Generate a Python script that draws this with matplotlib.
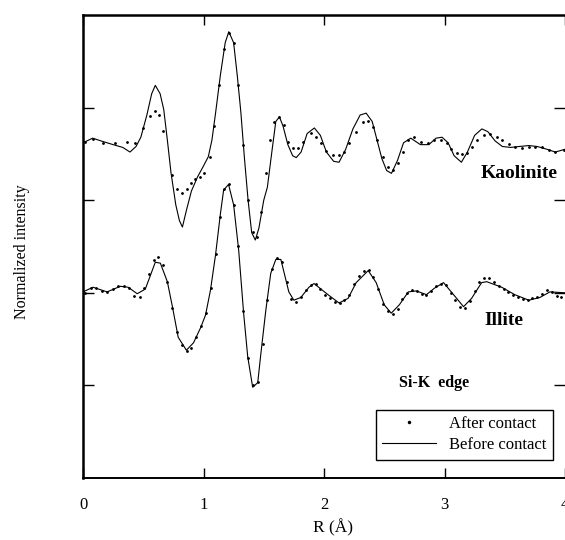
import matplotlib
matplotlib.use("Agg")
import matplotlib.pyplot as plt
import numpy as np

# 字体设置
plt.rcParams['font.family'] = ['Liberation Serif', 'DejaVu Serif']
plt.rcParams['mathtext.fontset'] = 'stix'

# Kaolinite, before contact (solid line)
kao_line_r = [0.00, 0.08, 0.15, 0.25, 0.33, 0.39, 0.44, 0.48, 0.53, 0.57, 0.60, 0.64, 0.67, 0.70,
              0.73, 0.77, 0.80, 0.825, 0.86, 0.90, 0.95, 1.00, 1.04, 1.07, 1.10, 1.14, 1.18, 1.21,
              1.25, 1.28, 1.31, 1.34, 1.37, 1.40, 1.43, 1.46, 1.50, 1.53, 1.57, 1.60, 1.63, 1.66,
              1.70, 1.74, 1.77, 1.81, 1.86, 1.92, 1.97, 2.02, 2.08, 2.125, 2.18, 2.24, 2.30, 2.35,
              2.40, 2.44, 2.48, 2.52, 2.56, 2.61, 2.66, 2.72, 2.80, 2.87, 2.93, 2.98, 3.03, 3.08,
              3.14, 3.19, 3.25, 3.31, 3.36, 3.42, 3.48, 3.55, 3.62, 3.70, 3.77, 3.85, 3.92, 4.00]
kao_line_y = [3.62, 3.67, 3.64, 3.60, 3.57, 3.52, 3.58, 3.68, 3.92, 4.15, 4.24, 4.15, 3.98, 3.65,
              3.30, 2.95, 2.78, 2.71, 2.90, 3.10, 3.25, 3.37, 3.47, 3.65, 3.94, 4.35, 4.70, 4.82,
              4.70, 4.35, 3.95, 3.45, 3.00, 2.65, 2.57, 2.70, 3.00, 3.14, 3.55, 3.85, 3.90, 3.80,
              3.60, 3.48, 3.46, 3.52, 3.72, 3.78, 3.70, 3.52, 3.42, 3.41, 3.55, 3.77, 3.92, 3.94,
              3.85, 3.65, 3.45, 3.32, 3.29, 3.43, 3.62, 3.67, 3.60, 3.60, 3.67, 3.68, 3.62, 3.48,
              3.41, 3.52, 3.70, 3.77, 3.74, 3.64, 3.58, 3.57, 3.58, 3.59, 3.58, 3.55, 3.52, 3.55]

# Kaolinite, after contact (dots)
kao_dot_r = [0.017, 0.083, 0.167, 0.267, 0.367, 0.433, 0.50, 0.558, 0.60, 0.633, 0.667, 0.742,
             0.783, 0.825, 0.867, 0.90, 0.933, 0.975, 1.008, 1.05, 1.083, 1.125, 1.167, 1.208,
             1.25, 1.283, 1.325, 1.367, 1.408, 1.442, 1.475, 1.517, 1.55, 1.583, 1.625, 1.667,
             1.70, 1.742, 1.783, 1.825, 1.892, 1.933, 1.975, 2.017, 2.075, 2.125, 2.167, 2.208,
             2.267, 2.325, 2.367, 2.408, 2.442, 2.492, 2.533, 2.575, 2.617, 2.658, 2.70, 2.75,
             2.808, 2.867, 2.917, 2.975, 3.017, 3.058, 3.10, 3.142, 3.183, 3.225, 3.267, 3.325,
             3.375, 3.433, 3.475, 3.533, 3.583, 3.642, 3.70, 3.75, 3.808, 3.867, 3.917, 3.992]
kao_dot_y = [3.63, 3.66, 3.62, 3.62, 3.63, 3.62, 3.78, 3.91, 3.96, 3.92, 3.75, 3.27,
             3.12, 3.08, 3.12, 3.19, 3.23, 3.25, 3.29, 3.47, 3.80, 4.24, 4.63, 4.81,
             4.70, 4.24, 3.60, 3.00, 2.66, 2.60, 2.87, 3.29, 3.65, 3.84, 3.90, 3.81,
             3.63, 3.56, 3.56, 3.63, 3.73, 3.68, 3.62, 3.53, 3.49, 3.49, 3.52, 3.62,
             3.74, 3.84, 3.86, 3.79, 3.65, 3.47, 3.36, 3.33, 3.40, 3.52, 3.65, 3.68,
             3.63, 3.62, 3.65, 3.65, 3.62, 3.55, 3.51, 3.50, 3.51, 3.57, 3.65, 3.70,
             3.71, 3.68, 3.65, 3.61, 3.57, 3.56, 3.57, 3.57, 3.57, 3.54, 3.52, 3.54]

# Illite, before contact (solid line)
ill_line_r = [0.00, 0.083, 0.20, 0.31, 0.375, 0.45, 0.517, 0.60, 0.642, 0.70, 0.742, 0.79, 0.858,
              0.917, 0.975, 1.017, 1.058, 1.10, 1.14, 1.167, 1.208, 1.25, 1.292, 1.333, 1.367,
              1.408, 1.45, 1.475, 1.517, 1.558, 1.60, 1.642, 1.708, 1.75, 1.808, 1.875, 1.917,
              2.033, 2.125, 2.20, 2.267, 2.367, 2.433, 2.50, 2.558, 2.625, 2.70, 2.767, 2.85,
              2.917, 2.992, 3.075, 3.158, 3.225, 3.308, 3.35, 3.475, 3.583, 3.70, 3.792, 3.875, 4.00]
ill_line_y = [2.01, 2.06, 2.01, 2.07, 2.06, 1.99, 2.04, 2.33, 2.32, 2.12, 1.85, 1.52, 1.38,
              1.46, 1.62, 1.76, 2.03, 2.41, 2.85, 3.11, 3.17, 2.95, 2.46, 1.78, 1.31,
              0.98, 1.03, 1.33, 1.81, 2.21, 2.36, 2.36, 2.01, 1.92, 1.95, 2.06, 2.10,
              1.98, 1.89, 1.94, 2.11, 2.24, 2.11, 1.87, 1.78, 1.87, 2.01, 2.02, 1.98,
              2.05, 2.11, 1.98, 1.85, 1.94, 2.11, 2.12, 2.06, 1.98, 1.92, 1.95, 2.01, 2.00]

# Illite, after contact (dots)
ill_dot_r = [0.02, 0.07, 0.11, 0.16, 0.20, 0.25, 0.29, 0.34, 0.38, 0.42, 0.47, 0.51, 0.55, 0.59,
             0.62, 0.66, 0.70, 0.74, 0.78, 0.82, 0.86, 0.90, 0.94, 0.98, 1.02, 1.06, 1.10, 1.14,
             1.17, 1.21, 1.25, 1.29, 1.33, 1.37, 1.41, 1.45, 1.49, 1.53, 1.57, 1.61, 1.65, 1.69,
             1.73, 1.77, 1.81, 1.85, 1.89, 1.93, 1.97, 2.01, 2.05, 2.09, 2.13, 2.17, 2.21, 2.25,
             2.29, 2.33, 2.37, 2.41, 2.45, 2.49, 2.53, 2.57, 2.61, 2.65, 2.69, 2.73, 2.77, 2.81,
             2.85, 2.89, 2.93, 2.97, 3.01, 3.05, 3.09, 3.13, 3.17, 3.21, 3.25, 3.29, 3.33, 3.37,
             3.41, 3.45, 3.49, 3.53, 3.57, 3.61, 3.65, 3.69, 3.73, 3.77, 3.81, 3.85, 3.89, 3.93, 3.97]
ill_dot_y = [2.00, 2.05, 2.05, 2.02, 2.01, 2.04, 2.07, 2.07, 2.05, 1.97, 1.96, 2.05, 2.20, 2.35,
             2.39, 2.30, 2.12, 1.84, 1.58, 1.44, 1.37, 1.40, 1.52, 1.64, 1.78, 2.05, 2.42, 2.82,
             3.12, 3.17, 2.95, 2.50, 1.80, 1.30, 1.00, 1.04, 1.45, 1.92, 2.26, 2.38, 2.33, 2.12,
             1.93, 1.90, 1.95, 2.03, 2.08, 2.09, 2.04, 1.98, 1.94, 1.90, 1.89, 1.92, 1.98, 2.10,
             2.18, 2.24, 2.25, 2.17, 2.04, 1.88, 1.80, 1.77, 1.83, 1.93, 2.00, 2.03, 2.02, 1.99,
             1.98, 2.02, 2.07, 2.10, 2.08, 2.00, 1.92, 1.85, 1.84, 1.91, 2.02, 2.12, 2.16, 2.16,
             2.12, 2.07, 2.04, 2.01, 1.98, 1.95, 1.93, 1.92, 1.94, 1.96, 1.99, 2.03, 2.01, 1.97, 1.96]

x_ticks = [0, 1, 2, 3, 4]
y_ticks = [1, 2, 3, 4]

fig = plt.figure(figsize=(5.65, 5.4), dpi=100)
ax = fig.add_axes([83 / 565, 1 - 478 / 540, 482 / 565, 463 / 540])

ax.plot(kao_line_r, kao_line_y, color='black', lw=0.8, label='Before contact')
ax.plot(kao_dot_r, kao_dot_y, ls='none', marker='.', ms=2.0, color='black', label='After contact')
ax.plot(ill_line_r, ill_line_y, color='black', lw=0.8)
ax.plot(ill_dot_r, ill_dot_y, ls='none', marker='.', ms=2.0, color='black')

ax.set_xlim(0, 4)
ax.set_ylim(0, 5)
ax.set_xticks(x_ticks)
ax.set_xticklabels([str(t) for t in x_ticks], fontsize=12)
ax.set_yticks(y_ticks)
ax.set_yticklabels([])
ax.tick_params(direction='in', top=True, right=True, length=7, width=1, pad=14)
ax.tick_params(axis='y', which='both', right=True, length=8)

for s in ['left', 'top']:
    ax.spines[s].set_linewidth(1.8)
ax.spines['bottom'].set_linewidth(1.4)
ax.spines['right'].set_visible(False)

ax.text(3.62, 3.29, 'Kaolinite', fontsize=14, fontweight='bold', ha='center', va='center')
ax.text(3.49, 1.70, 'Illite', fontsize=14, fontweight='bold', ha='center', va='center')
ax.text(2.91, 1.03, 'Si-K  edge', fontsize=11.5, fontweight='bold', ha='center', va='center')

# 图例：先点后线
h, l = ax.get_legend_handles_labels()
leg = ax.legend([h[1], h[0]], [l[1], l[0]], loc='lower right', bbox_to_anchor=(0.975, 0.039),
                borderaxespad=0, fontsize=12, frameon=True, fancybox=False, framealpha=1,
                edgecolor='black', handlelength=3.2, borderpad=0.4, labelspacing=0.3,
                markerscale=1.5)
leg.get_frame().set_linewidth(1.0)

fig.text(333 / 565, 1 - 528 / 540, 'R (Å)', fontsize=12.5, ha='center', va='center')
fig.text(22 / 565, 1 - 252 / 540, 'Normalized intensity', fontsize=11.5, rotation=90,
         ha='center', va='center')

fig.savefig('out.png', dpi=100)
